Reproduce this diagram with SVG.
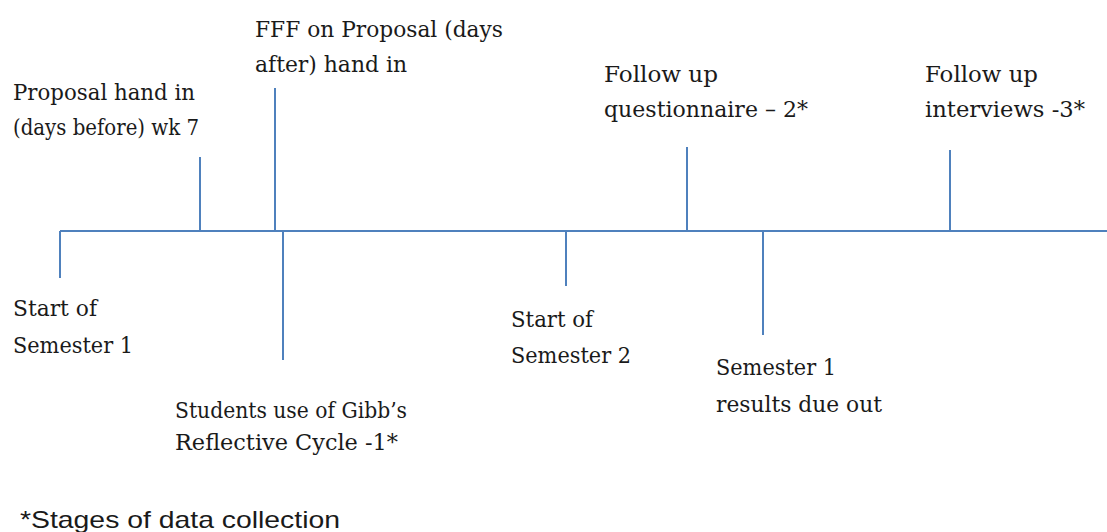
<svg xmlns="http://www.w3.org/2000/svg" width="1107" height="532" viewBox="0 0 1107 532">
<style>
.t{font-family:'DejaVu Serif','Liberation Serif',serif;font-size:22px;fill:#1a1a1a}
.f{font-family:'Liberation Sans','Open Sans',sans-serif;font-size:24px;fill:#1a1a1a}
.c line{stroke:#4F81BD;stroke-width:2;fill:none}
</style>
<rect width="1107" height="532" fill="#ffffff"/>
<g id="connectors" class="c">
<line x1="60" y1="231" x2="1107" y2="231"/>
<line x1="60" y1="231" x2="60" y2="278"/>
<line x1="200" y1="157" x2="200" y2="231"/>
<line x1="275" y1="88" x2="275" y2="231"/>
<line x1="283" y1="231" x2="283" y2="360"/>
<line x1="566" y1="231" x2="566" y2="286"/>
<line x1="687" y1="147" x2="687" y2="231"/>
<line x1="763" y1="231" x2="763" y2="335"/>
<line x1="950" y1="150" x2="950" y2="231"/>
</g>
<g id="proposal">
<text class="t" x="13" y="100" textLength="182" lengthAdjust="spacingAndGlyphs">Proposal hand in</text>
<text class="t" x="13" y="135" textLength="186" lengthAdjust="spacingAndGlyphs">(days before) wk 7</text>
</g>
<g id="fff">
<text class="t" x="255" y="37" textLength="248" lengthAdjust="spacingAndGlyphs">FFF on Proposal (days</text>
<text class="t" x="255" y="72" textLength="152" lengthAdjust="spacingAndGlyphs">after) hand in</text>
</g>
<g id="questionnaire">
<text class="t" x="604" y="82" textLength="114" lengthAdjust="spacingAndGlyphs">Follow up</text>
<text class="t" x="604" y="117" textLength="204" lengthAdjust="spacingAndGlyphs">questionnaire – 2*</text>
</g>
<g id="interviews">
<text class="t" x="925" y="82" textLength="113" lengthAdjust="spacingAndGlyphs">Follow up</text>
<text class="t" x="925" y="117" textLength="160" lengthAdjust="spacingAndGlyphs">interviews -3*</text>
</g>
<g id="start1">
<text class="t" x="13" y="316" textLength="84" lengthAdjust="spacingAndGlyphs">Start of</text>
<text class="t" x="13" y="353" textLength="120" lengthAdjust="spacingAndGlyphs">Semester 1</text>
</g>
<g id="gibbs">
<text class="t" x="175" y="418" textLength="232" lengthAdjust="spacingAndGlyphs">Students use of Gibb’s</text>
<text class="t" x="175" y="450" textLength="223" lengthAdjust="spacingAndGlyphs">Reflective Cycle -1*</text>
</g>
<g id="start2">
<text class="t" x="511" y="327" textLength="82" lengthAdjust="spacingAndGlyphs">Start of</text>
<text class="t" x="511" y="363" textLength="120" lengthAdjust="spacingAndGlyphs">Semester 2</text>
</g>
<g id="results">
<text class="t" x="716" y="375" textLength="120" lengthAdjust="spacingAndGlyphs">Semester 1</text>
<text class="t" x="716" y="412" textLength="166" lengthAdjust="spacingAndGlyphs">results due out</text>
</g>
<g id="footnote">
<text class="f" x="20" y="528" textLength="320" lengthAdjust="spacingAndGlyphs">*Stages of data collection</text>
</g>
</svg>
